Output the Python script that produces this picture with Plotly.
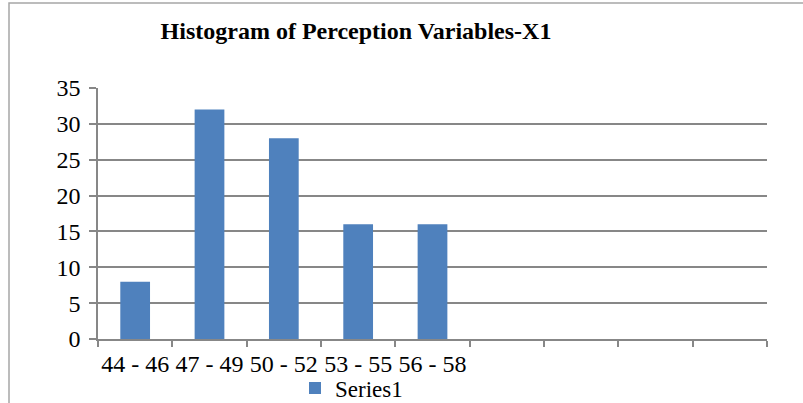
import plotly.graph_objects as go

categories = ["44 - 46", "47 - 49", "50 - 52", "53 - 55", "56 - 58", " ", "  ", "   ", "    "]
values = [8, 32, 28, 16, 16, None, None, None, None]
y_ticks = [0, 5, 10, 15, 20, 25, 30, 35]
series_name = "Series1"
title_text = "Histogram of Perception Variables-X1"

FONT = "Liberation Serif, Times New Roman, serif"
GRID = "#878787"

W, H = 803, 403
L, R, T, B = 98, 36, 88, 64
PW, PH = W - L - R, H - T - B

fig = go.Figure()
fig.add_trace(go.Bar(
    x=categories, y=values, name=series_name,
    marker=dict(color="#4F81BD", line=dict(width=0)),
    width=0.4, showlegend=True,
))

fig.update_layout(
    width=W, height=H,
    margin=dict(l=L, r=R, t=T, b=B, autoexpand=False),
    paper_bgcolor="white", plot_bgcolor="white",
    font=dict(family=FONT, size=24, color="black"),
    title=dict(text="<b>" + title_text + "</b>", x=356 / W, xanchor="center",
               y=1 - 31 / H, yanchor="middle",
               font=dict(family=FONT, size=24, color="black")),
    showlegend=True,
    legend=dict(orientation="h", x=(295 - L) / PW, xanchor="left",
                y=(T + PH - 388) / PH, yanchor="middle",
                font=dict(family=FONT, size=23), bgcolor="rgba(0,0,0,0)",
                itemwidth=30),
)

fig.update_xaxes(
    type="category", categoryorder="array", categoryarray=categories,
    range=[-0.5, 8.5], showgrid=False, showline=True, linecolor=GRID, linewidth=1.5,
    ticks="outside", tickson="boundaries", ticklen=6, tickcolor=GRID, tickwidth=1.5,
    tickangle=0, ticklabelstandoff=2,
    tickfont=dict(family=FONT, size=24, color="black"), fixedrange=True,
)
fig.update_yaxes(
    range=[0, 35], tickvals=y_ticks, showgrid=True, gridcolor=GRID, gridwidth=1.5,
    showline=True, linecolor=GRID, linewidth=1.5, ticks="outside", ticklen=7,
    tickcolor=GRID, tickwidth=1.5, zeroline=False,
    tickfont=dict(family=FONT, size=24, color="black"), ticklabelstandoff=4,
)

# outer chart-area border (left and top visible)
fig.add_shape(type="rect", xref="paper", yref="paper",
              x0=(9 - L) / PW, x1=(812 - L) / PW,
              y0=(T + PH - 415) / PH, y1=(T + PH - 3) / PH,
              line=dict(color="#A6A6A6", width=1.5), fillcolor="rgba(0,0,0,0)", layer="below")

fig.write_html("out.html", config={"displayModeBar": False},
               post_script="document.body.style.margin='0';")
